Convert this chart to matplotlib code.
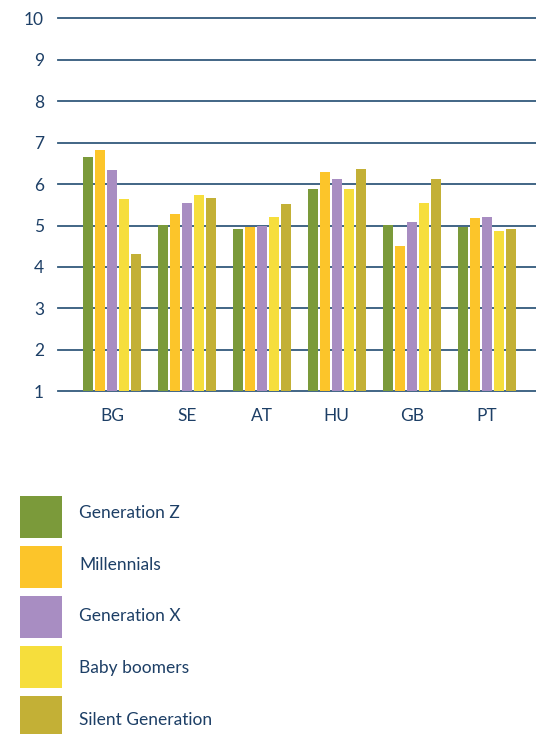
import numpy as np
import matplotlib.pyplot as plt
from matplotlib.patches import Rectangle

countries = ["BG", "SE", "AT", "HU", "GB", "PT"]
generations = ["Generation Z", "Millennials", "Generation X",
               "Baby boomers", "Silent Generation"]
gen_z = [6.65, 5.01, 4.92, 5.88, 5.01, 4.96]
millennials = [6.82, 5.28, 4.97, 6.29, 4.51, 5.18]
gen_x = [6.34, 5.54, 5.00, 6.12, 5.09, 5.21]
boomers = [5.64, 5.74, 5.21, 5.88, 5.55, 4.87]
silent = [4.31, 5.67, 5.52, 6.36, 6.12, 4.92]
colors = ["#7b9a3a", "#fcc52a", "#a88dc2", "#f6de3c", "#c3b036"]

text_color = "#1d3f66"
grid_color = "#33597c"

plt.rcParams["font.family"] = ["Lato", "DejaVu Sans"]
plt.rcParams["font.size"] = 12.5

fig = plt.figure(figsize=(5.36, 7.34), dpi=100)
ax = fig.add_axes([58 / 536, 1 - 391.3 / 734, 1 - 58 / 536, 373 / 734])

x = np.arange(len(countries))
bar_w = 10 / 75
step = 12 / 75
series = [gen_z, millennials, gen_x, boomers, silent]

# horizontal guide lines behind the bars
for v in range(1, 11):
    ax.axhline(v, color=grid_color, lw=1.3, zorder=0, clip_on=False)

for i, (vals, c) in enumerate(zip(series, colors)):
    ax.bar(x + (i - 2) * step, np.array(vals) - 1, bar_w, bottom=1,
           color=c, edgecolor="none", zorder=2, label=generations[i])

ax.set_xlim(-0.72, 5.66)
ax.set_ylim(1, 10)
ax.set_yticks(range(1, 11))
ax.set_xticks(x)
ax.set_xticklabels(countries)
ax.tick_params(length=0, colors=text_color, labelsize=12.5)
ax.tick_params(axis="y", pad=10)
ax.tick_params(axis="x", pad=12)
for s in ax.spines.values():
    s.set_visible(False)

# key below the chart, laid out in pixel units
leg = fig.add_axes([0, 0, 1, 1], zorder=-1)
leg.set_xlim(0, 536)
leg.set_ylim(734, 0)
leg.axis("off")
for i, (name, c) in enumerate(zip(generations, colors)):
    leg.add_patch(Rectangle((20, 496 + 50 * i), 42, 42,
                            facecolor=c, edgecolor="none"))
    leg.text(79, 513 + 51.7 * i, name, color=text_color, fontsize=12.5,
             va="center", ha="left")

fig.savefig("out.png", dpi=100, facecolor="white")
